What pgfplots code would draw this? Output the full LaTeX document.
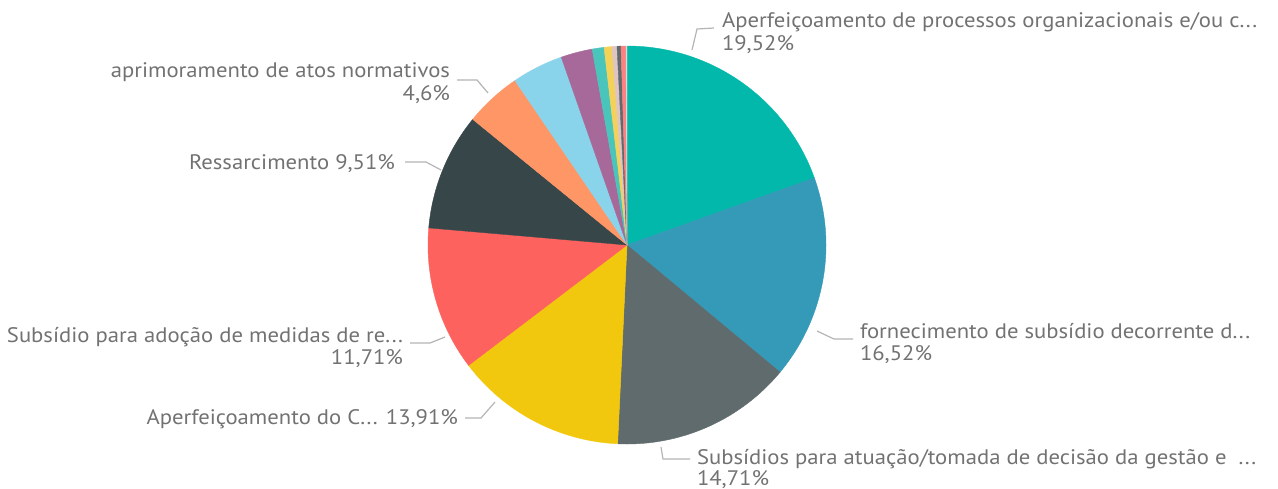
\documentclass[border=0pt]{standalone}
\usepackage{pgfplots}
\pgfplotsset{compat=1.18}
\usepackage{fontspec}
\setmainfont[FakeStretch=1.08]{PT Sans}
\definecolor{c1}{HTML}{01B8AA}
\definecolor{c2}{HTML}{3599B8}
\definecolor{c3}{HTML}{5F6B6D}
\definecolor{c4}{HTML}{F2C80F}
\definecolor{c5}{HTML}{FD625E}
\definecolor{c6}{HTML}{374649}
\definecolor{c7}{HTML}{FE9666}
\definecolor{c8}{HTML}{8AD4EB}
\definecolor{c9}{HTML}{A66999}
\definecolor{c10}{HTML}{4AC5BB}
\definecolor{c11}{HTML}{F4D25A}
\definecolor{c12}{HTML}{DFC4C4}
\definecolor{c13}{HTML}{5F6B6D}
\definecolor{c14}{HTML}{FB8281}
\definecolor{c15}{HTML}{D9D9D9}
\definecolor{lbl}{HTML}{727272}
\definecolor{lead}{HTML}{B4B4B4}
% slice from cumulative percent #1 to #2
\newcommand\slice[3]{\addplot[fill=#3,draw=#3,line width=0.2pt,domain={#1*3.6}:{#2*3.6},samples=90] ({627+199*sin(x)},{245-199*cos(x)}) -- (axis cs:627,245) -- cycle;}
\tikzset{lab/.style={font=\fontsize{10.5pt}{12pt}\selectfont, text=lbl, inner sep=0pt, outer sep=0pt}}
\begin{document}
\begin{tikzpicture}
\begin{axis}[
  scale only axis, width=639pt, height=244pt,
  xmin=0, xmax=1278, ymin=0, ymax=488, y dir=reverse,
  hide axis, clip=false,
]
% values: 19.52, 16.52, 14.71, 13.91, 11.71, 9.51, 4.6, 4.16, 2.56, 0.96, 0.64, 0.4, 0.32, 0.4, 0.08
\slice{0}{19.52}{c1}
\slice{19.52}{36.04}{c2}
\slice{36.04}{50.75}{c3}
\slice{50.75}{64.66}{c4}
\slice{64.66}{76.37}{c5}
\slice{76.37}{85.88}{c6}
\slice{85.88}{90.48}{c7}
\slice{90.48}{94.64}{c8}
\slice{94.64}{97.20}{c9}
\slice{97.20}{98.16}{c10}
\slice{98.16}{98.80}{c11}
\slice{98.80}{99.20}{c12}
\slice{99.20}{99.52}{c13}
\slice{99.52}{99.92}{c14}
\slice{99.92}{100}{c15}
% leader lines
\draw[lead, line width=0.6pt] (axis cs:692,50) -- (axis cs:697,29) -- (axis cs:714,28);
\draw[lead, line width=0.6pt] (axis cs:817,331) -- (axis cs:834,339) -- (axis cs:853,339);
\draw[lead, line width=0.6pt] (axis cs:661,447) -- (axis cs:663,459) -- (axis cs:690,459);
\draw[lead, line width=0.6pt] (axis cs:495,402) -- (axis cs:481,418) -- (axis cs:465,418);
\draw[lead, line width=0.6pt] (axis cs:445,337) -- (axis cs:430,343) -- (axis cs:410,343);
\draw[lead, line width=0.6pt] (axis cs:441,170) -- (axis cs:426,162) -- (axis cs:405,162);
\draw[lead, line width=0.6pt] (axis cs:457,80) -- (axis cs:477,80) -- (axis cs:488,93);
% labels
\node[lab, anchor=base west] at (axis cs:722,27) {Aperfeiçoamento de processos organizacionais e/ou c...};
\node[lab, anchor=base west] at (axis cs:722,50) {19,52\%};
\node[lab, anchor=base west] at (axis cs:860,338) {fornecimento de subsídio decorrente d...};
\node[lab, anchor=base west] at (axis cs:860,360) {16,52\%};
\node[lab, anchor=base west] at (axis cs:697,464) {Subsídios para atuação/tomada de decisão da gestão e \ ...};
\node[lab, anchor=base west] at (axis cs:697,485) {14,71\%};
\node[lab, anchor=base east] at (axis cs:458,424) {Aperfeiçoamento do C... 13,91\%};
\node[lab, anchor=base east] at (axis cs:403,342) {Subsídio para adoção de medidas de re...};
\node[lab, anchor=base east] at (axis cs:403,364) {11,71\%};
\node[lab, anchor=base east] at (axis cs:395,169) {Ressarcimento 9,51\%};
\node[lab, anchor=base east] at (axis cs:450,77) {aprimoramento de atos normativos};
\node[lab, anchor=base east] at (axis cs:450,100) {4,6\%};
\end{axis}
\pgfresetboundingbox
\path (0,0) rectangle (639pt,244pt);
\end{tikzpicture}
\end{document}
